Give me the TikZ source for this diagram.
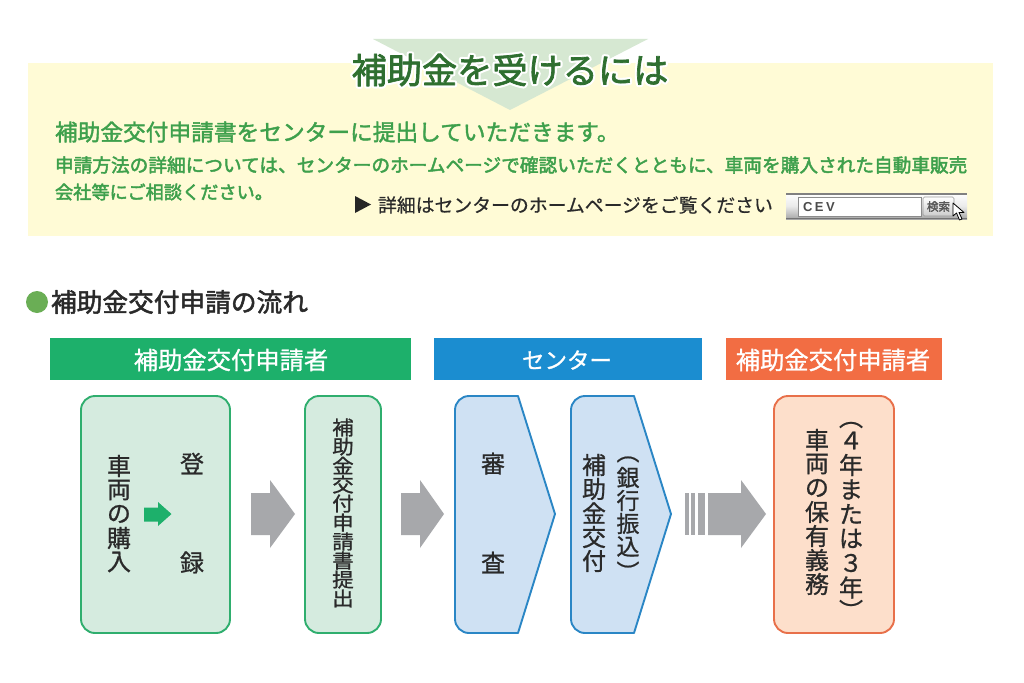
\documentclass[tikz,border=0pt]{standalone}
\usepackage{fontspec}
\usepackage{graphicx}
\setmainfont{Noto Sans CJK JP}
\newfontfamily\lat{Liberation Sans}
\usetikzlibrary{shadings}
\definecolor{panelcol}{HTML}{FFFBD6}
\definecolor{tricol}{HTML}{D6E8D2}
\definecolor{titlecol}{HTML}{2F6F30}
\definecolor{leadcol}{HTML}{3EA04C}
\definecolor{dotcol}{HTML}{6AAE55}
\definecolor{inkcol}{HTML}{2A2A2A}
\definecolor{hgreen}{HTML}{1DB06B}
\definecolor{hblue}{HTML}{1B8DD0}
\definecolor{horange}{HTML}{F26D43}
\definecolor{gfill}{HTML}{D5EBDF}
\definecolor{gline}{HTML}{2FAE6E}
\definecolor{bfill}{HTML}{CFE1F3}
\definecolor{bline}{HTML}{2A86C5}
\definecolor{ofill}{HTML}{FDDFCB}
\definecolor{oline}{HTML}{E8704A}
\definecolor{arrowgrey}{HTML}{A7A8AB}
\newcommand\thick[2]{\special{pdf:code q 2 Tr 1 j #1 w}#2\special{pdf:code Q}}
\newcommand\halo[2]{\special{pdf:code q 2 Tr 1 j #1 w 1 1 1 RG 1 1 1 rg}#2\special{pdf:code Q}}
\newlength\vwid
\newlength\vpit
\newlength\vpar
\ExplSyntaxOn
\NewDocumentCommand{\vtext}{mmmm}{
  \group_begin:
  \fontsize{#1pt}{#1pt}\selectfont
  \setlength\vwid{#1pt}\setlength\vpit{#2pt}\setlength\vpar{#3pt}
  \vbox{\offinterlineskip
    \tl_map_inline:nn {#4}{
      \bool_if:nTF {\str_if_eq_p:nn{##1}{（} || \str_if_eq_p:nn{##1}{）}}
        {\hbox to \vwid{\hss\vbox to \vpar{\vss\hbox{\rotatebox[origin=c]{-90}{##1}}\vss}\hss}}
        {\hbox to \vwid{\hss\vbox to \vpit{\vss\hbox{##1}\vss}\hss}}
    }
  }
  \group_end:
}
\ExplSyntaxOff
\tikzset{
  x=1pt,y=-1pt,
  txt/.style={inner sep=0pt,outer sep=0pt},
  lead/.style={txt,anchor=west,text=leadcol},
  header/.style={txt,text=white,font=\fontsize{24.3}{26}\selectfont},
  flowbox/.style={line width=1.9pt,rounded corners=14pt},
  pentagon/.style={line width=1.9pt,draw=bline,fill=bfill,line join=round},
  body/.style={txt,text=inkcol},
  one/.style={body,font=\fontsize{24}{26}\selectfont},
  bigarrow/.style={fill=arrowgrey,draw=none},
}
\begin{document}
\begin{tikzpicture}
\useasboundingbox (0,0) rectangle (1024,682);
\fill[white] (0,0) rectangle (1024,682);
% panel
\fill[panelcol] (28,63) rectangle (993,236);
\fill[tricol] (373,39) -- (648,39) -- (510,110) -- cycle;
% title
\node[txt] (title) at (510,70) {\fontsize{35.2}{38}\selectfont\rlap{\halo{5}{補助金を受けるには}}{\color{titlecol}\thick{0.7}{補助金を受けるには}}};
% lead text
\node[lead] (lead1) at (55,132) {\fontsize{22.7}{24}\selectfont\thick{0.4}{補助金交付申請書をセンターに提出していただきます。}};
\node[lead] (lead2) at (55,165) {\fontsize{18.67}{20}\selectfont\thick{0.45}{申請方法の詳細については、センターのホームページで確認いただくとともに、車両を購入された自動車販売}};
\node[lead] (lead3) at (55,192) {\fontsize{18.2}{20}\selectfont\thick{0.45}{会社等にご相談ください。}};
% link line
\fill[black!85] (355,196) -- (371,204.5) -- (355,213) -- cycle;
\node[body,anchor=west] (link) at (378,205) {\fontsize{18.85}{20}\selectfont\thick{0.1}{詳細はセンターのホームページをご覧ください}};
% search widget
\shade[top color=white,bottom color=black!35,middle color=black!8] (786,193) rectangle (967,219);
\fill[black!50] (786,193) rectangle (967,195);
\fill[black!55] (786,217.5) rectangle (967,219);
\draw[black!45,fill=white,line width=.8pt] (798,197) rectangle (921,216);
\node[txt,anchor=west] (cev) at (803,207) {\lat\bfseries\fontsize{13}{14}\selectfont\color{black!70}C\kern2.5pt E\kern2.5pt V};
\draw[black!40,top color=white,bottom color=black!20,rounded corners=1.5pt,line width=.6pt] (923,197) rectangle (954,216);
\node[txt] (search) at (938.5,206.5) {\fontsize{11.5}{12}\selectfont\color{black!65}\thick{0.3}{検索}};
\draw[black,fill=white,line width=.8pt,line join=round] (953,203) -- (953,216) -- (956.5,213) -- (959.5,220) -- (962,219) -- (959,212.5) -- (964,212.5) -- cycle;
% section heading
\fill[dotcol] (37,302) circle (11);
\node[txt,anchor=west,text=inkcol] (section) at (51,302) {\fontsize{25.7}{28}\selectfont\thick{0.5}{補助金交付申請の流れ}};
% header bars
\fill[hgreen] (50,338) rectangle (411,380);
\node[header] (h1) at (231,360) {\thick{0.25}{補助金交付申請者}};
\fill[hblue] (434,338) rectangle (702,380);
\node[header,font=\fontsize{22.5}{26}\selectfont] (h2) at (567,360) {\thick{0.25}{センター}};
\fill[horange] (726,338) rectangle (942,380);
\node[header] (h3) at (833,360) {\thick{0.25}{補助金交付申請者}};
% green boxes
\draw[flowbox,draw=gline,fill=gfill] (81,396) rectangle (230,633);
\draw[flowbox,draw=gline,fill=gfill] (305,396) rectangle (381,633);
\node[body] (buy) at (119,514) {\thick{0.2}{\vtext{24}{24}{12}{車両の購入}}};
\node[one] (reg1) at (192,463.5) {\thick{0.2}{登}};
\node[one] (reg2) at (192,562.5) {\thick{0.2}{録}};
\fill[hgreen] (144,507.5) -- (158,507.5) -- (158,502) -- (171.5,514) -- (158,526) -- (158,521.5) -- (144,521.5) -- cycle;
\node[body] (apply) at (343,513) {\thick{0.2}{\scalebox{1.1}[1]{\vtext{19.6}{19}{10}{補助金交付申請書提出}}}};
% grey arrows
\fill[bigarrow] (251,493) -- (270,493) -- (270,480) -- (295,514) -- (270,548) -- (270,535) -- (251,535) -- cycle;
\fill[bigarrow] (401,493) -- (420,493) -- (420,480) -- (444,514) -- (420,548) -- (420,535) -- (401,535) -- cycle;
% blue pentagons
\draw[pentagon] (518,396) -- (555,514) -- (518,633) -- (469,633)
  .. controls (461.3,633) and (455,626.7) .. (455,619) -- (455,410)
  .. controls (455,402.3) and (461.3,396) .. (469,396) -- cycle;
\draw[pentagon] (634,396) -- (671,514) -- (634,633) -- (585,633)
  .. controls (577.3,633) and (571,626.7) .. (571,619) -- (571,410)
  .. controls (571,402.3) and (577.3,396) .. (585,396) -- cycle;
\node[one] (exam1) at (493,463.5) {\thick{0.2}{審}};
\node[one] (exam2) at (493,562.5) {\thick{0.2}{査}};
\node[body] (grant) at (594,513) {\thick{0.2}{\vtext{24}{24}{12}{補助金交付}}};
\node[body] (bank) at (628,512) {\thick{0.2}{\vtext{23}{23}{28}{（銀行振込）}}};
% striped arrow
\fill[bigarrow] (685,493) rectangle (688.5,535);
\fill[bigarrow] (691,493) rectangle (695,535);
\fill[bigarrow] (698,493) rectangle (705,535);
\fill[bigarrow] (708,493) -- (741,493) -- (741,480) -- (766,514) -- (741,548) -- (741,535) -- (708,535) -- cycle;
% orange box
\draw[flowbox,draw=oline,fill=ofill] (774,396) rectangle (894,633);
\node[body] (duty) at (817,512) {\thick{0.2}{\vtext{24}{24}{12}{車両の保有義務}}};
\node[body] (years) at (851,514) {\thick{0.2}{\vtext{24}{24.5}{22}{（４年または３年）}}};
\end{tikzpicture}
\end{document}
